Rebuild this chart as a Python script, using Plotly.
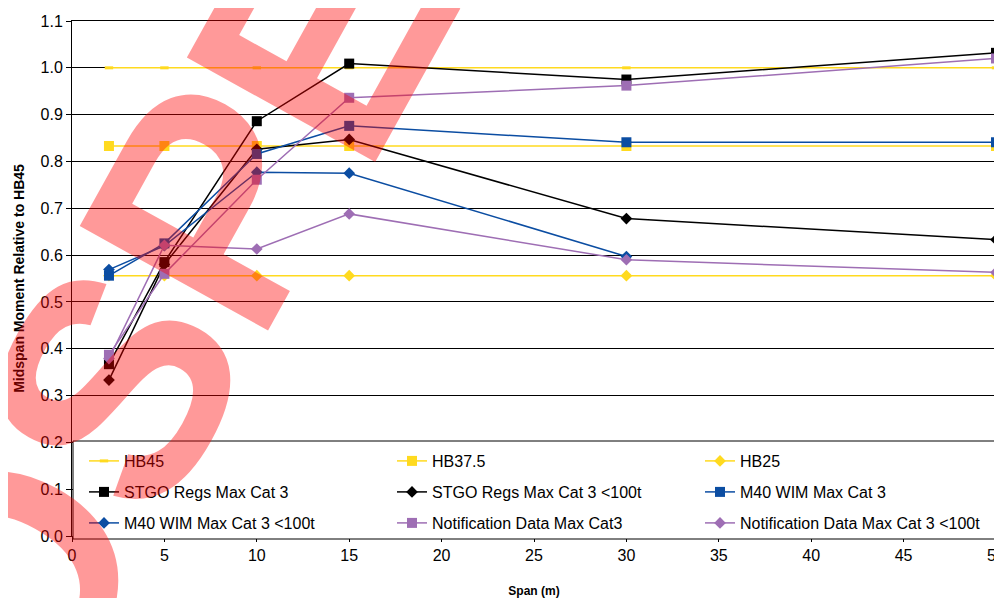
import plotly.graph_objects as go

span = [2, 5, 10, 15, 30, 50]
hb45 = [1.0, 1.0, 1.0, 1.0, 1.0, 1.0]
hb375 = [0.833, 0.833, 0.833, 0.833, 0.833, 0.833]
hb25 = [0.556, 0.556, 0.556, 0.556, 0.556, 0.556]
stgo = [0.367, 0.585, 0.886, 1.009, 0.975, 1.032]
stgo_100 = [0.333, 0.580, 0.826, 0.847, 0.678, 0.633]
m40 = [0.556, 0.625, 0.816, 0.876, 0.841, 0.841]
m40_100 = [0.569, 0.620, 0.777, 0.775, 0.597, None]
notif = [0.387, 0.560, 0.761, 0.936, 0.962, 1.020]
notif_100 = [0.379, 0.621, 0.613, 0.688, 0.590, 0.563]

names = ["HB45", "HB37.5", "HB25",
         "STGO Regs Max Cat 3", "STGO Regs Max Cat 3 <100t", "M40 WIM Max Cat 3",
         "M40 WIM Max Cat 3 <100t", "Notification Data Max Cat3", "Notification Data Max Cat 3 <100t"]
series = [hb45, hb375, hb25, stgo, stgo_100, m40, m40_100, notif, notif_100]

YEL = "#FFDA1F"
BLK = "#000000"
BLU = "#0B4DA2"
PUR = "#9E6EB4"
colors = [YEL, YEL, YEL, BLK, BLK, BLU, BLU, PUR, PUR]
symbols = ["line-ew", "square", "diamond", "square", "diamond", "square", "diamond", "square", "diamond"]
sizes = [6, 10, 9, 10, 9, 10, 9, 10, 9]
legends = ["legend", "legend", "legend", "legend2", "legend2", "legend2", "legend3", "legend3", "legend3"]

fig = go.Figure()
for nm, ys, c, s, sz, lg in zip(names, series, colors, symbols, sizes, legends):
    mk = dict(symbol=s, size=sz, color=c)
    if s == "line-ew":
        mk["line"] = dict(color=c, width=3)
    fig.add_trace(go.Scatter(x=span, y=ys, name=nm, mode="lines+markers",
                             line=dict(color=c, width=1.5), marker=mk,
                             legend=lg, cliponaxis=False, connectgaps=False))

# page is shown with an 8px body margin; size the figure so it ends at the window edge
OFF = 8
W, H = 1002 - OFF, 598 - OFF
PL, PT, PW, PH = 72, 21, 924, 515          # plot area in page pixels
L, T = PL - OFF, PT - OFF
R, B = W - L - PW, H - T - PH

def px_x(p):
    return (p - PL) / PW

def px_y(p):
    return (PT + PH - p) / PH

# legend frame
fig.add_shape(type="rect", xref="paper", yref="paper",
              x0=px_x(73), x1=px_x(997), y0=px_y(539), y1=px_y(441),
              fillcolor="white", line=dict(color="black", width=1), layer="above")

leg_common = dict(orientation="h", entrywidth=263, entrywidthmode="pixels",
                  bgcolor="rgba(0,0,0,0)", borderwidth=0, xanchor="left", yanchor="middle",
                  font=dict(family="Liberation Sans, Arial, sans-serif", size=16, color="#000000"),
                  traceorder="normal")
fig.update_layout(
    legend=dict(x=px_x(84), y=px_y(461), **leg_common),
    legend2=dict(x=px_x(84), y=px_y(492), **leg_common),
    legend3=dict(x=px_x(84), y=px_y(523), **leg_common),
)

# watermark letters (visible part of a rotated stamp)
wm_letters = ["O", "S", "P", "E"]
wm_centres = [(4, 584), (113, 387), (213, 205), (321, 37)]
for ch, (cx, cy) in zip(wm_letters, wm_centres):
    fig.add_annotation(text="<b>" + ch + "</b>", xref="paper", yref="paper",
                       x=px_x(cx), y=px_y(cy), xanchor="center", yanchor="middle",
                       showarrow=False, textangle=-61,
                       font=dict(family="Liberation Sans, Arial, sans-serif", size=313,
                                 color="rgba(255,0,0,0.4)"))

fig.update_layout(
    width=W, height=H,
    margin=dict(l=L, r=R, t=T, b=B, autoexpand=False),
    paper_bgcolor="white", plot_bgcolor="white",
    font=dict(family="Liberation Sans, Arial, sans-serif", size=16, color="#000000"),
    showlegend=True,
)
fig.update_xaxes(range=[0, 50], dtick=5, tick0=0, showgrid=False, zeroline=False,
                 showline=True, linecolor="black", linewidth=1, mirror=True,
                 ticks="outside", ticklen=5, tickcolor="black", automargin=False,
                 ticklabeloverflow="allow",
                 title=dict(text="<b>Span (m)</b>", font=dict(size=12), standoff=24))
fig.update_yaxes(range=[0, 1.1], dtick=0.1, tick0=0, tickformat=".1f",
                 showgrid=True, gridcolor="black", gridwidth=1, zeroline=False,
                 showline=True, linecolor="black", linewidth=1, mirror=True,
                 ticks="outside", ticklen=5, tickcolor="black", automargin=False,
                 title=dict(text="<b>Midspan Moment Relative to HB45</b>", font=dict(size=14), standoff=12))

fig.write_html("out.html")
